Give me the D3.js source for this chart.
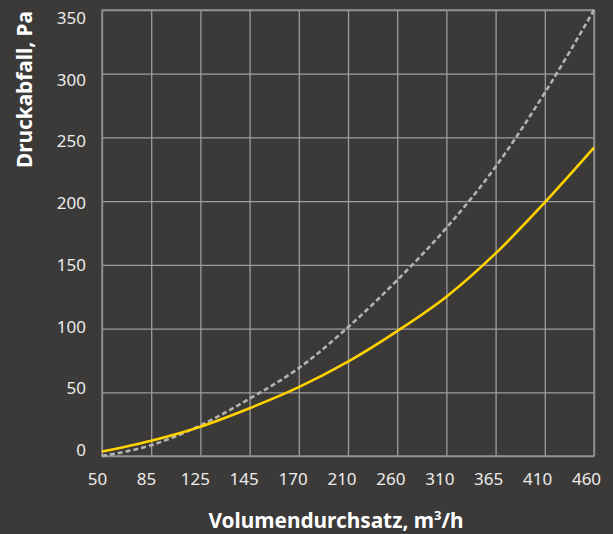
<!DOCTYPE html>
<html>
<head>
<meta charset="utf-8">
<script src="https://cdn.jsdelivr.net/npm/d3@7"></script>
<style>
  html, body { margin: 0; padding: 0; background: #3b3a38; }
  svg { display: block; }
  .tick text { font-family: "Noto Sans", sans-serif; font-size: 17px; fill: #ececec; }
  .title { font-family: "Noto Sans", sans-serif; font-weight: bold; font-size: 20.8px; fill: #ffffff; }
</style>
</head>
<body>
<div class="chart"></div>
<script>
// x categories (evenly spaced on the chart)
var flowRates = ["50", "85", "125", "145", "170", "210", "260", "310", "365", "410", "460"];
// pressure drop, Pa
var pressureYellow = [3.5, 12, 23, 37.5, 54, 74, 98, 125, 159, 199, 242];
var pressureDashed = [0, 8.5, 24, 45, 69, 101, 138, 179, 227, 285, 350];
var yTicks = [0, 50, 100, 150, 200, 250, 300, 350];

var svgWidth = 613;
var svgHeight = 534;

var margin = { top: 10, right: 19, bottom: 78, left: 102 };
var width = svgWidth - margin.left - margin.right;
var height = svgHeight - margin.top - margin.bottom;

var svg = d3.select(".chart")
  .append("svg")
  .attr("width", svgWidth)
  .attr("height", svgHeight);

svg.append("rect")
  .attr("width", svgWidth)
  .attr("height", svgHeight)
  .attr("fill", "#3b3a38");

var chartGroup = svg.append("g")
  .attr("transform", `translate(${margin.left}, ${margin.top})`);

var xScale = d3.scalePoint()
  .domain(flowRates)
  .range([0, width]);

var yScale = d3.scaleLinear()
  .domain([0, 350])
  .range([height, 0]);

// the tick labels in the original sit slightly off the grid lines
var xLabelScale = d3.scalePoint()
  .domain(flowRates)
  .range([-5, width - 8]);

var yLabelScale = d3.scaleLinear()
  .domain([0, 350])
  .range([height - 6, 8]);

// grid
var xGrid = chartGroup.append("g")
  .attr("transform", `translate(0, ${height})`)
  .call(d3.axisBottom(xScale).tickSize(-height).tickFormat(""));
xGrid.select(".domain").remove();
xGrid.selectAll(".tick line").attr("stroke", "#9d9d9b").attr("stroke-width", 1.3);

var yGrid = chartGroup.append("g")
  .call(d3.axisLeft(yScale).tickValues(yTicks).tickSize(-width).tickFormat(""));
yGrid.select(".domain").remove();
yGrid.selectAll(".tick line").attr("stroke", "#9d9d9b").attr("stroke-width", 1.3);

// tick labels
var xAxis = chartGroup.append("g")
  .attr("transform", `translate(0, ${height})`)
  .call(d3.axisBottom(xLabelScale).tickSize(0).tickPadding(17));
xAxis.select(".domain").remove();

var yAxis = chartGroup.append("g")
  .call(d3.axisLeft(yLabelScale).tickValues(yTicks).tickSize(0).tickPadding(16));
yAxis.select(".domain").remove();

// plot border
chartGroup.append("rect")
  .attr("width", width)
  .attr("height", height)
  .attr("fill", "none")
  .attr("stroke", "#8e8e8c")
  .attr("stroke-width", 1.5);

var line = d3.line()
  .x((d, i) => xScale(flowRates[i]))
  .y(d => yScale(d))
  .curve(d3.curveMonotoneX);

chartGroup.append("path")
  .datum(pressureDashed)
  .attr("d", line)
  .attr("fill", "none")
  .attr("stroke", "#b4b4b2")
  .attr("stroke-width", 2.6)
  .attr("stroke-dasharray", "5,3");

chartGroup.append("path")
  .datum(pressureYellow)
  .attr("d", line)
  .attr("fill", "none")
  .attr("stroke", "#ffd200")
  .attr("stroke-width", 2.6);

// axis titles
var xTitle = svg.append("text")
  .attr("class", "title")
  .attr("x", 336)
  .attr("y", 528)
  .attr("text-anchor", "middle");
xTitle.append("tspan").text("Volumendurchsatz, m");
xTitle.append("tspan").attr("dy", -8).attr("font-size", 13).text("3");
xTitle.append("tspan").attr("dy", 8).text("/h");

svg.append("text")
  .attr("class", "title")
  .attr("transform", "translate(32, 168) rotate(-90)")
  .attr("text-anchor", "start")
  .text("Druckabfall, Pa");
</script>
</body>
</html>
